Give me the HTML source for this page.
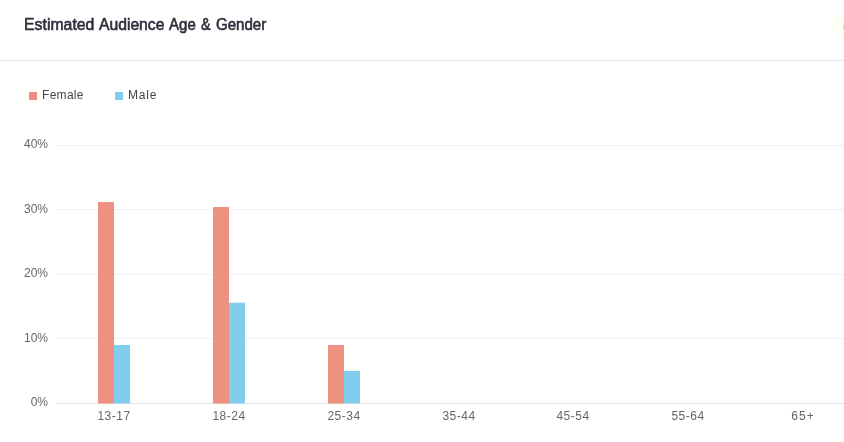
<!DOCTYPE html>
<html lang="en">
<head>
<meta charset="utf-8">
<title>Estimated Audience Age &amp; Gender</title>
<style>
  html, body { margin: 0; padding: 0; background: #fff; }
  body { width: 844px; height: 442px; overflow: hidden; position: relative;
         font-family: "Liberation Sans", sans-serif; }
  .card { position: absolute; left: 0; top: 0; width: 844px; height: 442px; background: #fff; overflow: hidden; }
  .title { position: absolute; left: 0; top: 15px; width: 300px; height: 20px; margin: 0;
           font-size: 16px; font-weight: 400; line-height: 20px; color: #2d2f3a; white-space: nowrap;
           -webkit-text-stroke: 0.6px #2d2f3a; }
  .title span { position: absolute; top: 0; display: block; transform-origin: 0 0; }
  .hr { position: absolute; left: 0; top: 60px; width: 844px; height: 1px; background: #e8e8e8; }
  .edge { position: absolute; left: 843px; top: 24px; width: 12px; height: 6px; border-radius: 1px; background: #ddd5a2; }
  .halo { position: absolute; left: 834px; top: 17px; width: 10px; height: 16px; background: rgba(255, 236, 150, 0.10); }
  .lg { position: absolute; top: 92px; width: 8px; height: 8px; }
  .lt { position: absolute; top: 87px; letter-spacing: 0.3px; height: 16px; line-height: 16px; font-size: 12px; color: #444; white-space: nowrap; }
  .grid { position: absolute; left: 56px; width: 788px; height: 1px; background: #f0f0f0; }
  .axis { position: absolute; left: 56px; top: 403px; width: 788px; height: 1px; background: #e2e2e2; }
  .yl { position: absolute; left: 0; width: 48px; text-align: right; height: 16px; line-height: 16px;
        font-size: 12px; color: #666; white-space: nowrap; }
  .xl { position: absolute; top: 408px; letter-spacing: 0.5px; width: 60px; text-align: center; height: 16px; line-height: 16px;
        font-size: 12px; color: #666; white-space: nowrap; }
  .bar { position: absolute; width: 16px; }
  .f { background: #ed9280; }
  .m { background: #80cdee; }
</style>
</head>
<body>
<div class="card">
  <h3 class="title"><span style="left:23.5px; transform:scaleX(0.99)">Estimated </span><span style="left:99.3px; transform:scaleX(0.98)">Audience </span><span style="left:168.8px; transform:scaleX(0.94)">Age </span><span style="left:200.8px; transform:scaleX(0.89)">&amp; </span><span style="left:216px; transform:scaleX(0.942)">Gender</span></h3>
  <div class="halo"></div>
  <div class="edge"></div>
  <div class="hr"></div>

  <div class="lg f" style="left:29px; background:#ec8b82"></div>
  <div class="lt" style="left:42px">Female</div>
  <div class="lg m" style="left:115px"></div>
  <div class="lt" style="left:128px; letter-spacing:0.8px">Male</div>

  <div class="grid" style="top:145px"></div>
  <div class="grid" style="top:209px"></div>
  <div class="grid" style="top:274px"></div>
  <div class="grid" style="top:338px"></div>

  <div class="yl" style="top:136px">40%</div>
  <div class="yl" style="top:201px">30%</div>
  <div class="yl" style="top:265px">20%</div>
  <div class="yl" style="top:330px">10%</div>
  <div class="yl" style="top:394px">0%</div>

  <div class="bar f" style="left:98px; top:202px; height:201px"></div>
  <div class="bar m" style="left:114px; top:345px; height:58px"></div>
  <div class="bar f" style="left:213px; top:207px; height:196px"></div>
  <div class="bar m" style="left:229px; top:302px; height:1px; opacity:.35"></div>
  <div class="bar m" style="left:229px; top:303px; height:100px"></div>
  <div class="bar f" style="left:328px; top:345px; height:58px"></div>
  <div class="bar m" style="left:344px; top:371px; height:32px"></div>

  <div class="axis"></div>
  <div class="bar f" style="left:98px; top:403px; height:1px; opacity:.5"></div>
  <div class="bar m" style="left:114px; top:403px; height:1px; opacity:.5"></div>
  <div class="bar f" style="left:213px; top:403px; height:1px; opacity:.5"></div>
  <div class="bar m" style="left:229px; top:403px; height:1px; opacity:.5"></div>
  <div class="bar f" style="left:328px; top:403px; height:1px; opacity:.5"></div>
  <div class="bar m" style="left:344px; top:403px; height:1px; opacity:.5"></div>

  <div class="xl" style="left:84px">13-17</div>
  <div class="xl" style="left:199px">18-24</div>
  <div class="xl" style="left:314px">25-34</div>
  <div class="xl" style="left:429px">35-44</div>
  <div class="xl" style="left:543px">45-54</div>
  <div class="xl" style="left:658px">55-64</div>
  <div class="xl" style="left:773px; letter-spacing:1px">65+</div>
</div>
</body>
</html>
